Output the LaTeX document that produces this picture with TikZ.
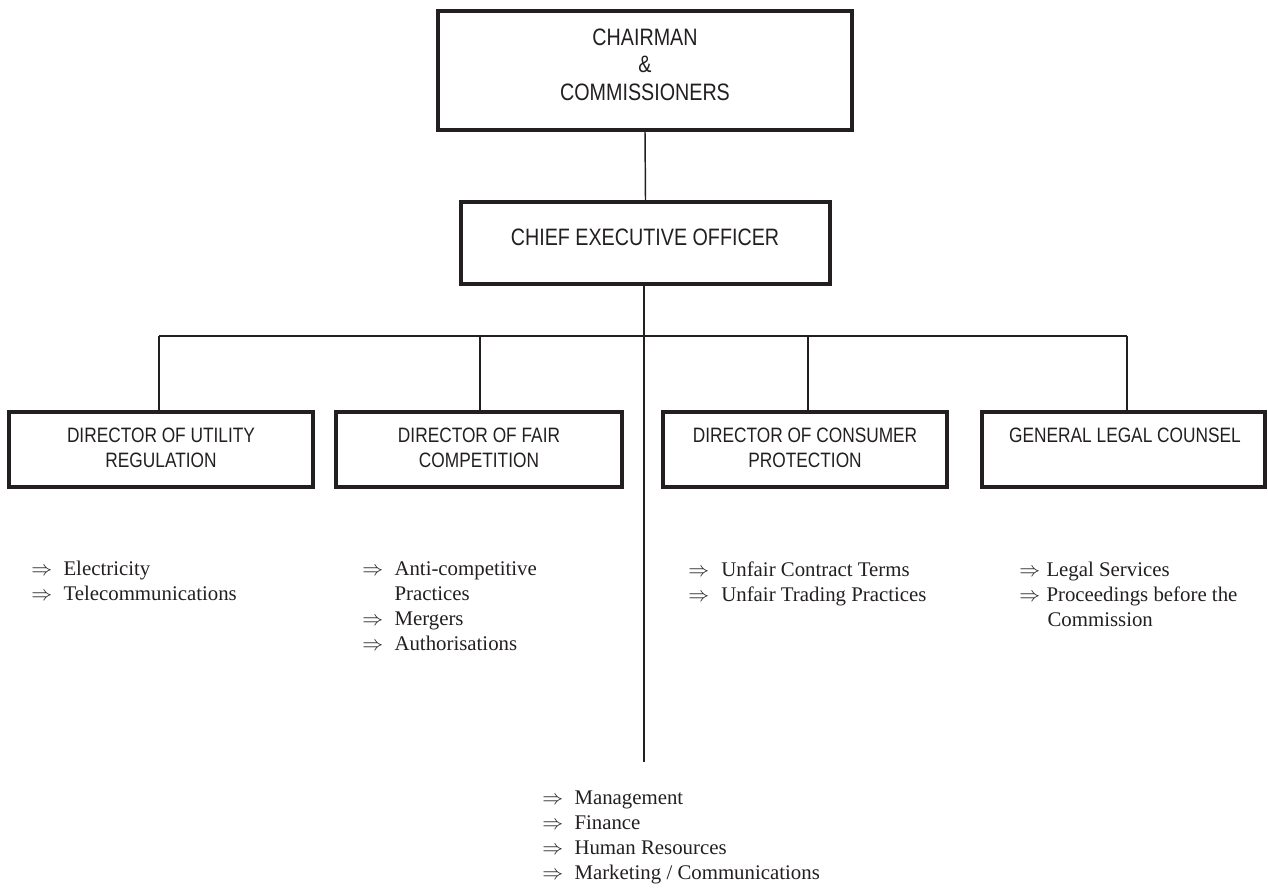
\documentclass[tikz,border=0pt]{standalone}
\usepackage{fontspec}
\setmainfont{Liberation Serif}
\newfontfamily\narrowsf[FakeStretch=0.83]{Liberation Sans}
\definecolor{ink}{RGB}{35,31,32}
\newcommand\listarr[1][15.4pt]{\makebox[#1][l]{$\Rightarrow$}}
\newcommand\listind[1][15.4pt]{\hspace*{#1}}
\tikzset{
  box/.style={draw=ink, line width=1.6pt, rectangle, inner sep=0pt},
  bx/.style 2 args={minimum width=#1*0.48pt, minimum height=#2*0.48pt},
  conn/.style={draw=ink, line width=0.7pt},
  head/.style={text=ink, font={\narrowsf\fontsize{11.4}{13.2}\selectfont}, align=center, inner sep=0pt},
  dtext/.style={text=ink, font={\narrowsf\fontsize{10}{12}\selectfont}, align=center, inner sep=0pt},
  list/.style={text=ink, font={\fontsize{10}{12}\selectfont}, align=left, inner sep=0pt, anchor=north west},
}
\begin{document}
\begin{tikzpicture}[x=0.48pt, y=-0.48pt]
\useasboundingbox (0,0) rectangle (1268,888);
% boxes
\node[box, bx={414}{119}] (top) at (645,70.5) {};
\node[box, bx={369}{82}] (ceo) at (645.5,243) {};
\node[box, bx={304}{75}] (b1) at (161,449.5) {};
\node[box, bx={286}{75}] (b2) at (479,449.5) {};
\node[box, bx={284}{75}] (b3) at (805,449.5) {};
\node[box, bx={283}{75}] (b4) at (1123.5,449.5) {};
% box texts
\node[head] (toptxt) at (645,64.5) {CHAIRMAN\\\&\\COMMISSIONERS};
\node[head] (ceotxt) at (645,237) {CHIEF EXECUTIVE OFFICER};
\node[dtext] (t1) at (161,447.5) {DIRECTOR OF UTILITY\\REGULATION};
\node[dtext] (t2) at (479,447.5) {DIRECTOR OF FAIR\\COMPETITION};
\node[dtext] (t3) at (805,447.5) {DIRECTOR OF CONSUMER\\PROTECTION};
\node[dtext] (t4) at (1125,435) {GENERAL LEGAL COUNSEL};
% connectors
\coordinate (mainend) at (644,762);
\coordinate (busL) at (159,336);
\coordinate (busR) at (1127,336);
\coordinate (d2) at (480,336);
\coordinate (d3) at (808,336);
\draw[conn] (top.south) -- (ceo.north);
\draw[conn] (ceo.south -| mainend) -- (mainend);
\draw[conn] (busL) -- (busR);
\draw[conn] (busL) -- (busL |- b1.north);
\draw[conn] (d2) -- (d2 |- b2.north);
\draw[conn] (d3) -- (d3 |- b3.north);
\draw[conn] (busR) -- (busR |- b4.north);
% lists
\node[list] (l1) at (31,561) {\listarr Electricity\\\listarr Telecommunications};
\node[list] (l2) at (362,561) {\listarr Anti-competitive\\\listind Practices\\\listarr Mergers\\\listarr Authorisations};
\node[list] (l3) at (688,561) {\listarr[15.8pt]Unfair Contract Terms\\\listarr[15.8pt]Unfair Trading Practices};
\node[list] (l4) at (1019,562) {\listarr[13pt]Legal Services\\\listarr[13pt]Proceedings before the\\\listind[13.5pt]Commission};
\node[list] (l5) at (542,790) {\listarr Management\\\listarr Finance\\\listarr Human Resources\\\listarr Marketing / Communications};
\end{tikzpicture}
\end{document}
